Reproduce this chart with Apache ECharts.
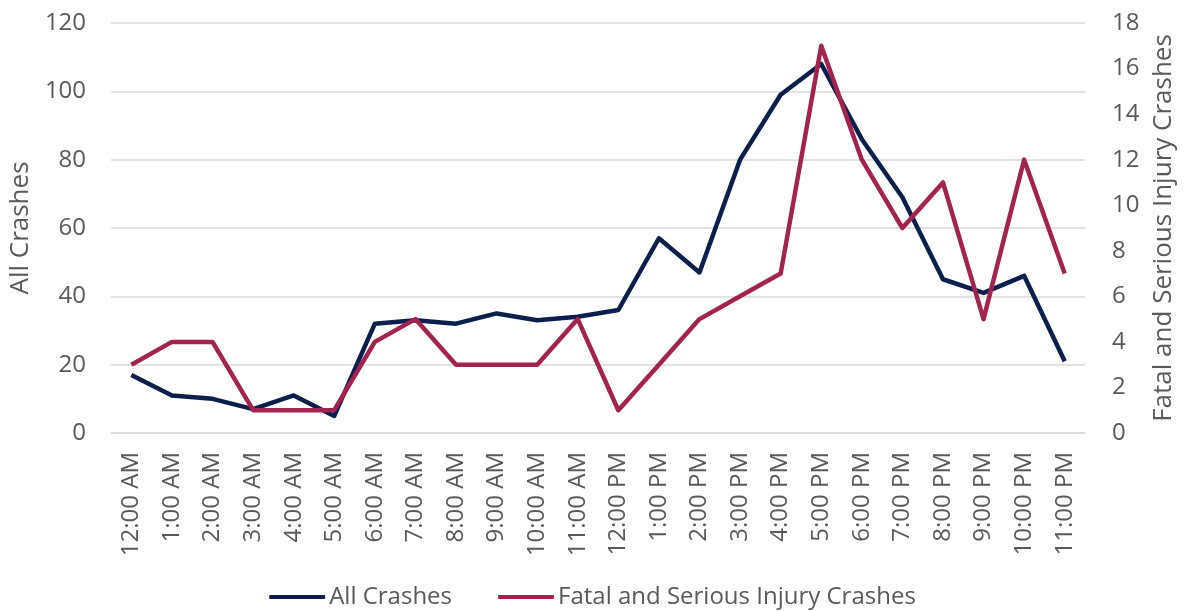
<!DOCTYPE html>
<html>
<head>
<meta charset="utf-8">
<script src="https://cdn.jsdelivr.net/npm/echarts@6/dist/echarts.min.js"></script>
<style>
  html, body { margin: 0; padding: 0; background: #fff; }
  #chart { width: 1185px; height: 611px; }
</style>
</head>
<body>
<div id="chart"></div>
<script>
// hours of the day
const hours = ['12:00 AM', '1:00 AM', '2:00 AM', '3:00 AM', '4:00 AM', '5:00 AM',
  '6:00 AM', '7:00 AM', '8:00 AM', '9:00 AM', '10:00 AM', '11:00 AM',
  '12:00 PM', '1:00 PM', '2:00 PM', '3:00 PM', '4:00 PM', '5:00 PM',
  '6:00 PM', '7:00 PM', '8:00 PM', '9:00 PM', '10:00 PM', '11:00 PM']

// left axis
const allCrashes = [17, 11, 10, 7, 11, 5, 32, 33, 32, 35, 33, 34,
  36, 57, 47, 80, 99, 108, 86, 69, 45, 41, 46, 21]

// right axis
const fatalSerious = [3, 4, 4, 1, 1, 1, 4, 5, 3, 3, 3, 5,
  1, 3, 5, 6, 7, 17, 12, 9, 11, 5, 12, 7]

const NAVY = '#0c1f4c'
const MAROON = '#a3234f'
const GREY = '#595959'
const FONT = '"Open Sans", sans-serif'

const chart = echarts.init(document.getElementById('chart'))

chart.setOption({
  animation: false,
  textStyle: { fontFamily: FONT },
  grid: { left: 110, right: 100, top: 23, bottom: 178 },
  legend: {
    top: 582,
    left: 'center',
    padding: 0,
    itemWidth: 56,
    itemHeight: 4,
    itemGap: 46,
    icon: 'roundRect',
    textStyle: { color: GREY, fontSize: 24, lineHeight: 30, fontFamily: FONT, padding: [0, 0, 0, -1] },
    data: ['All Crashes', 'Fatal and Serious Injury Crashes']
  },
  xAxis: {
    type: 'category',
    data: hours,
    boundaryGap: true,
    axisLine: { lineStyle: { color: '#d9d9d9', width: 1.5 } },
    axisTick: { show: false },
    axisLabel: { color: GREY, fontSize: 24, rotate: 90, margin: 19, interval: 0 }
  },
  yAxis: [
    {
      type: 'value',
      min: 0, max: 120, interval: 20,
      name: 'All Crashes',
      nameLocation: 'middle',
      nameGap: 76,
      nameTextStyle: { color: GREY, fontSize: 26 },
      axisLine: { show: false },
      axisTick: { show: false },
      axisLabel: { color: GREY, fontSize: 24, margin: 25 },
      splitLine: { lineStyle: { color: '#d9d9d9', width: 1.5 } }
    },
    {
      type: 'value',
      min: 0, max: 18, interval: 2,
      name: 'Fatal and Serious Injury Crashes',
      nameLocation: 'middle',
      nameGap: 66,
      nameRotate: 90,
      nameTextStyle: { color: GREY, fontSize: 26 },
      axisLine: { show: false },
      axisTick: { show: false },
      axisLabel: { color: GREY, fontSize: 24, margin: 27 },
      splitLine: { show: false }
    }
  ],
  series: [
    {
      name: 'All Crashes',
      type: 'line',
      yAxisIndex: 0,
      data: allCrashes,
      symbol: 'none',
      color: NAVY,
      lineStyle: { color: NAVY, width: 4.5, join: 'round' }
    },
    {
      name: 'Fatal and Serious Injury Crashes',
      type: 'line',
      yAxisIndex: 1,
      data: fatalSerious,
      symbol: 'none',
      color: MAROON,
      lineStyle: { color: MAROON, width: 4.5, join: 'round' }
    }
  ]
})
</script>
</body>
</html>
